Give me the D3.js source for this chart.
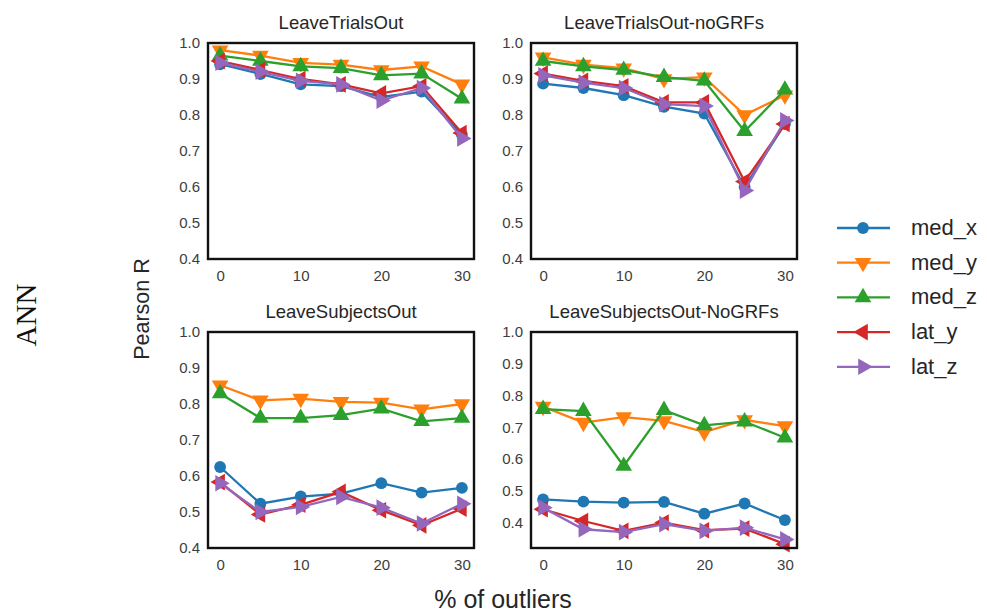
<!DOCTYPE html>
<html>
<head>
<meta charset="utf-8">
<script src="https://cdn.jsdelivr.net/npm/d3@7"></script>
<style>
  body { margin: 0; background: #fff; }
  text { font-family: "Liberation Sans", Arial, sans-serif; }
</style>
</head>
<body>
<svg id="chart" width="987" height="614"></svg>
<script>
// x values (% of outliers)
var outliers = [0, 5, 10, 15, 20, 25, 30];
var seriesNames = ["med_x", "med_y", "med_z", "lat_y", "lat_z"];
var panelTitles = ["LeaveTrialsOut", "LeaveTrialsOut-noGRFs", "LeaveSubjectsOut", "LeaveSubjectsOut-NoGRFs"];
var xTicks = [0, 10, 20, 30];
var yTicks = [0.4, 0.5, 0.6, 0.7, 0.8, 0.9, 1.0];

// one row per series, order = seriesNames
var leaveTrialsOut = [
  [0.941, 0.914, 0.885, 0.880, 0.850, 0.865, 0.745],
  [0.980, 0.965, 0.945, 0.940, 0.925, 0.935, 0.885],
  [0.965, 0.950, 0.935, 0.930, 0.910, 0.915, 0.845],
  [0.950, 0.925, 0.900, 0.885, 0.860, 0.880, 0.750],
  [0.945, 0.920, 0.895, 0.885, 0.840, 0.875, 0.735]
];
var leaveTrialsOutNoGRFs = [
  [0.887, 0.875, 0.855, 0.823, 0.804, 0.600, 0.775],
  [0.960, 0.940, 0.930, 0.900, 0.905, 0.800, 0.855],
  [0.950, 0.935, 0.925, 0.905, 0.895, 0.755, 0.870],
  [0.915, 0.895, 0.880, 0.835, 0.835, 0.615, 0.775],
  [0.910, 0.890, 0.875, 0.830, 0.825, 0.590, 0.785]
];
var leaveSubjectsOut = [
  [0.625, 0.523, 0.543, 0.551, 0.580, 0.554, 0.567],
  [0.852, 0.810, 0.815, 0.806, 0.804, 0.785, 0.800],
  [0.829, 0.761, 0.761, 0.769, 0.787, 0.752, 0.761],
  [0.583, 0.493, 0.520, 0.556, 0.505, 0.463, 0.509],
  [0.580, 0.500, 0.514, 0.542, 0.512, 0.468, 0.523]
];
var leaveSubjectsOutNoGRFs = [
  [0.473, 0.466, 0.463, 0.465, 0.428, 0.460, 0.408],
  [0.765, 0.715, 0.732, 0.720, 0.685, 0.723, 0.704],
  [0.757, 0.751, 0.578, 0.754, 0.706, 0.718, 0.667],
  [0.442, 0.405, 0.374, 0.400, 0.376, 0.381, 0.332],
  [0.447, 0.379, 0.370, 0.395, 0.374, 0.384, 0.347]
];
var panelData = [leaveTrialsOut, leaveTrialsOutNoGRFs, leaveSubjectsOut, leaveSubjectsOutNoGRFs];
var panelYMin = [0.4, 0.4, 0.4, 0.32];

var colors = ["#1f77b4", "#ff7f0e", "#2ca02c", "#d62728", "#9467bd"];
// marker: symbol type + rotation (o, v, ^, <, >)
var markers = [
  {type: d3.symbolCircle, rot: 0, size: 110},
  {type: d3.symbolTriangle, rot: 180, size: 120},
  {type: d3.symbolTriangle, rot: 0, size: 120},
  {type: d3.symbolTriangle, rot: -90, size: 120},
  {type: d3.symbolTriangle, rot: 90, size: 120}
];

// panel frames (left, top) in px
var panelPos = [
  {x: 208, y: 43},
  {x: 531, y: 43},
  {x: 208, y: 332},
  {x: 531, y: 332}
];
var pw = 266, ph = 216;

var svg = d3.select("#chart");

panelPos.forEach(function(p, pi) {
  var g = svg.append("g").attr("transform", "translate(" + p.x + "," + p.y + ")");

  var x = d3.scaleLinear().domain([-1.5, 31.5]).range([0, pw]);
  var y = d3.scaleLinear().domain([panelYMin[pi], 1.0]).range([ph, 0]);

  // tick labels only, no tick marks (seaborn white style)
  var xAxis = d3.axisBottom(x).tickValues(xTicks).tickSize(0).tickPadding(11).tickFormat(d3.format("d"));
  var yAxis = d3.axisLeft(y).tickValues(yTicks).tickSize(0).tickPadding(8).tickFormat(d3.format(".1f"));

  var gx = g.append("g").attr("transform", "translate(0," + ph + ")").call(xAxis);
  var gy = g.append("g").call(yAxis);
  [gx, gy].forEach(function(a) {
    a.attr("font-size", null).attr("font-family", null);
    a.select(".domain").remove();
    a.selectAll("text").attr("fill", "#3d3d3d").style("font-size", "15px");
  });

  g.append("text")
    .attr("x", pw / 2).attr("y", -14)
    .attr("text-anchor", "middle")
    .attr("fill", "#262626")
    .style("font-size", "18.5px")
    .text(panelTitles[pi]);

  var line = d3.line()
    .x(function(d, i) { return x(outliers[i]); })
    .y(function(d) { return y(d); });

  panelData[pi].forEach(function(vals, si) {
    g.append("path")
      .datum(vals)
      .attr("d", line)
      .attr("fill", "none")
      .attr("stroke", colors[si])
      .attr("stroke-width", 2.3);

    g.selectAll(".m" + si)
      .data(vals)
      .enter()
      .append("path")
      .attr("class", "m" + si)
      .attr("d", d3.symbol().type(markers[si].type).size(markers[si].size))
      .attr("transform", function(d, i) {
        return "translate(" + x(outliers[i]) + "," + y(d) + ") rotate(" + markers[si].rot + ")";
      })
      .attr("fill", colors[si]);
  });

  // frame
  g.append("rect")
    .attr("width", pw).attr("height", ph)
    .attr("fill", "none")
    .attr("stroke", "#111")
    .attr("stroke-width", 2.4);
});

// legend
var legend = svg.append("g").attr("transform", "translate(837,228)");
seriesNames.forEach(function(name, i) {
  var row = legend.append("g").attr("transform", "translate(0," + (i * 34.7) + ")");
  row.append("line")
    .attr("x1", 0).attr("x2", 53).attr("y1", 0).attr("y2", 0)
    .attr("stroke", colors[i]).attr("stroke-width", 2.3);
  row.append("path")
    .attr("d", d3.symbol().type(markers[i].type).size(markers[i].size))
    .attr("transform", "translate(26,0) rotate(" + markers[i].rot + ")")
    .attr("fill", colors[i]);
  row.append("text")
    .attr("x", 74).attr("y", 7)
    .attr("fill", "#262626")
    .style("font-size", "22px")
    .text(name);
});

// axis titles
svg.append("text")
  .attr("transform", "translate(149,309) rotate(-90)")
  .attr("text-anchor", "middle")
  .attr("fill", "#262626")
  .style("font-size", "21.5px")
  .text("Pearson R");

svg.append("text")
  .attr("transform", "translate(36,315) rotate(-90)")
  .attr("text-anchor", "middle")
  .attr("fill", "#111")
  .style("font-family", "'Liberation Serif', 'Times New Roman', serif")
  .style("font-size", "29px")
  .text("ANN");

svg.append("text")
  .attr("x", 503).attr("y", 608)
  .attr("text-anchor", "middle")
  .attr("fill", "#262626")
  .style("font-size", "25px")
  .text("% of outliers");
</script>
</body>
</html>
